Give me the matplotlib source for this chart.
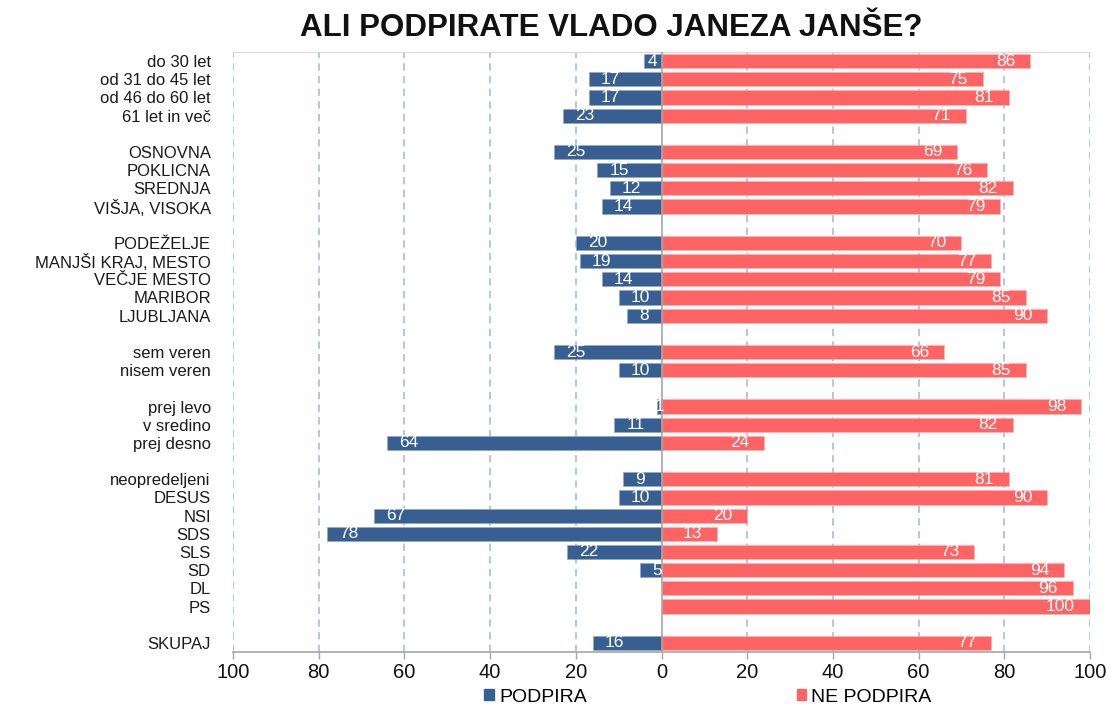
import numpy as np
import matplotlib
matplotlib.use("Agg")
import matplotlib.pyplot as plt
from matplotlib.patches import Patch
from matplotlib.transforms import offset_copy

plt.rcParams['font.family'] = ['Liberation Sans', 'DejaVu Sans']

categories = [
    "do 30 let", "od 31 do 45 let", "od 46 do 60 let", "61 let in več", "",
    "OSNOVNA", "POKLICNA", "SREDNJA", "VIŠJA, VISOKA", "",
    "PODEŽELJE", "MANJŠI KRAJ, MESTO", "VEČJE MESTO", "MARIBOR", "LJUBLJANA", "",
    "sem veren", "nisem veren", "",
    "prej levo", "v sredino", "prej desno", "",
    "neopredeljeni", "DESUS", "NSI", "SDS", "SLS", "SD", "DL", "PS", "",
    "SKUPAJ",
]
nan = np.nan
podpira = [4, 17, 17, 23, nan,
           25, 15, 12, 14, nan,
           20, 19, 14, 10, 8, nan,
           25, 10, nan,
           1, 11, 64, nan,
           9, 10, 67, 78, 22, 5, 0, 0, nan,
           16]
ne_podpira = [86, 75, 81, 71, nan,
              69, 76, 82, 79, nan,
              70, 77, 79, 85, 90, nan,
              66, 85, nan,
              98, 82, 24, nan,
              81, 90, 20, 13, 73, 94, 96, 100, nan,
              77]
xticks = [-100, -80, -60, -40, -20, 0, 20, 40, 60, 80, 100]
xticklabels = ["100", "80", "60", "40", "20", "0", "20", "40", "60", "80", "100"]

blue = "#375F91"
red = "#FF6464"

fig = plt.figure(figsize=(11.13, 7.06), dpi=100)
ax = fig.add_axes([233/1113, 1-652/706, (1090-233)/1113, 600/706])

y = np.arange(len(categories))
pod = np.array(podpira, dtype=float)
ne = np.array(ne_podpira, dtype=float)

ax.barh(y, -pod, height=0.78, color=blue, edgecolor="#8FA6C4", linewidth=0.4, zorder=3)
ax.barh(y, ne, height=0.78, color=red, edgecolor="#FFB0B0", linewidth=0.4, zorder=3)

ax.set_xlim(-100, 100)
ax.set_ylim(len(categories) - 0.5, -0.5)

for gx in xticks:
    if gx == 0:
        continue
    ax.axvline(gx, color="#A9C1EA", lw=1.3, ls=(0, (4, 3)), zorder=1)
ax.axvline(0, color="#A6A6A6", lw=1.2, zorder=4)

fs_val = 12.5
for i in range(len(categories)):
    p = pod[i]
    n = ne[i]
    if not np.isnan(p) and p > 0:
        if p < 5:
            ax.text(-p / 2, i, f"{int(p)}", ha='center', va='center',
                    color='white', fontsize=fs_val, zorder=5)
        else:
            tr = offset_copy(ax.transData, fig=fig, x=12, y=0, units='dots')
            ax.text(-p, i, f"{int(p)}", transform=tr, ha='left', va='center',
                    color='white', fontsize=fs_val, zorder=5)
    if not np.isnan(n) and n > 0:
        tr = offset_copy(ax.transData, fig=fig, x=-15, y=0, units='dots')
        ax.text(n, i, f"{int(n)}", transform=tr, ha='right', va='center',
                color='white', fontsize=fs_val, zorder=5)

ax.set_yticks(y)
ax.set_yticklabels(categories, fontsize=12, color="#1a1a1a")
ax.tick_params(axis='y', length=0, pad=16)
ax.set_xticks(xticks)
ax.set_xticklabels(xticklabels, fontsize=14.5, color="#111111")
ax.tick_params(axis='x', direction='out', length=5, color="#A6A6A6", width=1, pad=3)

for s in ['left', 'right']:
    ax.spines[s].set_visible(False)
ax.spines['top'].set_color("#D9D9D9")
ax.spines['bottom'].set_color("#A6A6A6")
ax.spines['bottom'].set_linewidth(1.2)

fig.text(611/1113, 1-28/706, "ALI PODPIRATE VLADO JANEZA JANŠE?", ha='center', va='center',
         fontsize=22.5, fontweight='bold', color="#111111")

handles = [Patch(facecolor=blue, edgecolor=blue), Patch(facecolor=red, edgecolor=red)]
fig.legend(handles, ["PODPIRA", "NE PODPIRA"], loc='center', bbox_to_anchor=(708/1113, 1-697/706),
           ncol=2, frameon=False, fontsize=14, handlelength=0.5, handleheight=0.5,
           handletextpad=0.25, columnspacing=10.8, borderpad=0)

fig.savefig("out.png", dpi=100, facecolor='white')
